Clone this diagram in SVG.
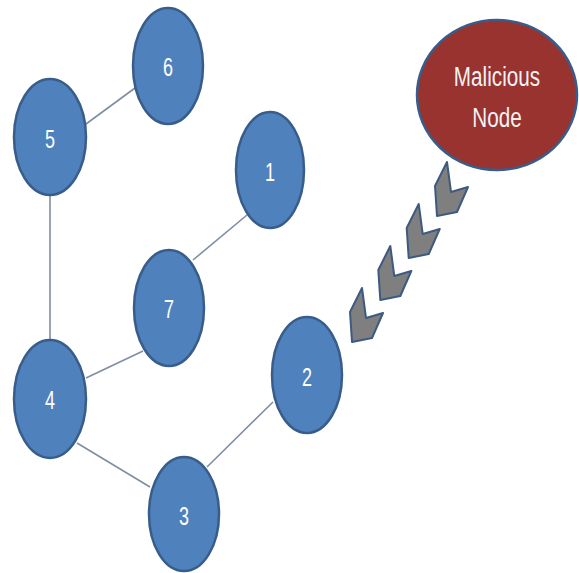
<svg xmlns="http://www.w3.org/2000/svg" width="579" height="573" viewBox="0 0 579 573">
<defs>
<style>
.node{fill:#4f81bd;stroke:#385d8a;stroke-width:2.5}
.mal{fill:#983330;stroke:#385d8a;stroke-width:2.5}
.lbl{font-family:"Liberation Sans",Arial,sans-serif;font-size:25px;fill:#ffffff;text-anchor:middle}
.mlbl{font-family:"Liberation Sans",Arial,sans-serif;font-size:28px;fill:#f2f2f2;text-anchor:middle}
.edge{stroke:#7f8ea3;stroke-width:1.6;fill:none}
.chev{fill:#7f7f7f;stroke:#3d5a80;stroke-width:2;stroke-linejoin:round}
</style>
<polygon id="chevron" points="0,0 -12,24 -10,54 10,50 21,25 4,30"/>
</defs>
<rect width="579" height="573" fill="#ffffff"/>
<g id="connectors">
<line class="edge" x1="86" y1="124" x2="135" y2="88"/>
<line class="edge" x1="50" y1="195" x2="50" y2="341"/>
<line class="edge" x1="247" y1="215" x2="193" y2="260"/>
<line class="edge" x1="143" y1="351" x2="86" y2="378"/>
<line class="edge" x1="77" y1="443" x2="150" y2="487"/>
<line class="edge" x1="207" y1="467" x2="273" y2="402"/>
</g>
<g id="attack">
<use href="#chevron" class="chev" x="447" y="162"/>
<use href="#chevron" class="chev" x="418.7" y="204"/>
<use href="#chevron" class="chev" x="390.3" y="246"/>
<use href="#chevron" class="chev" x="362" y="288"/>
</g>
<g id="node6"><ellipse class="node" cx="168" cy="66" rx="35" ry="58"/><text class="lbl" transform="translate(168,76) scale(0.72,1)">6</text></g>
<g id="node5"><ellipse class="node" cx="50" cy="137" rx="36" ry="58"/><text class="lbl" transform="translate(50,148) scale(0.72,1)">5</text></g>
<g id="node1"><ellipse class="node" cx="270" cy="170" rx="34" ry="58"/><text class="lbl" transform="translate(270,181) scale(0.72,1)">1</text></g>
<g id="node7"><ellipse class="node" cx="169" cy="308" rx="35" ry="58"/><text class="lbl" transform="translate(169,318) scale(0.72,1)">7</text></g>
<g id="node4"><ellipse class="node" cx="50" cy="399" rx="36" ry="59"/><text class="lbl" transform="translate(50,409) scale(0.72,1)">4</text></g>
<g id="node3"><ellipse class="node" cx="184" cy="514" rx="35" ry="57"/><text class="lbl" transform="translate(184,525) scale(0.72,1)">3</text></g>
<g id="node2"><ellipse class="node" cx="307" cy="375" rx="35" ry="58"/><text class="lbl" transform="translate(307,386) scale(0.72,1)">2</text></g>
<g id="malicious"><ellipse class="mal" cx="497" cy="95" rx="80" ry="75"/><text class="mlbl" transform="translate(497,86) scale(0.74,1)">Malicious</text><text class="mlbl" transform="translate(497,127) scale(0.74,1)">Node</text></g>
</svg>
